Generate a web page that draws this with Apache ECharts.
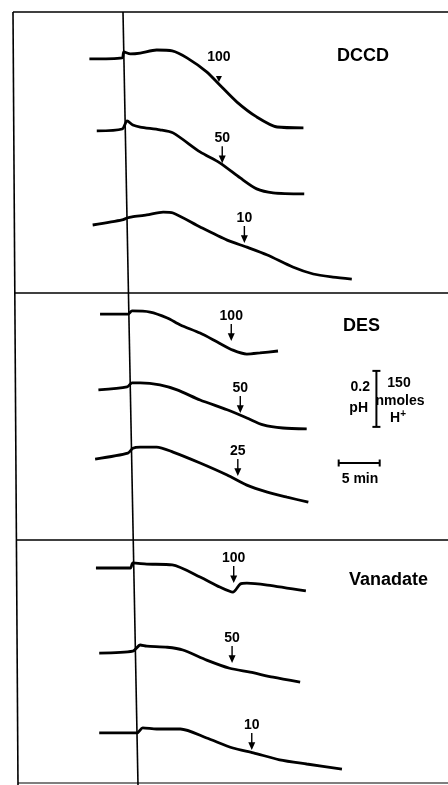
<!DOCTYPE html>
<html>
<head>
<meta charset="utf-8">
<script src="https://cdn.jsdelivr.net/npm/echarts@6/dist/echarts.min.js"></script>
<style>
  html, body { margin: 0; padding: 0; background: #fff; }
  #chart { width: 448px; height: 785px; }
</style>
</head>
<body>
<div id="chart"></div>
<script>
// time in min (0 = addition at the vertical line), pH change vs. start of trace
var panelNames = ['DCCD', 'DES', 'Vanadate'];
var traceBase = [2.593, 2.336, 2.0, 1.682, 1.411, 1.164, 0.775, 0.471, 0.186];

var dccd100T = [-4.1, -0.1, 0.1, 0.9, 2.1, 4.1, 6.0, 7.8, 10.2, 11.8, 13.9, 16.3, 18.8, 22.0];
var dccd100P = [0, 0.004, 0.025, 0.018, 0.021, 0.032, 0.029, 0.004, -0.046, -0.093, -0.154, -0.207, -0.243, -0.246];
var dccd50T = [-3.2, -0.1, 0.5, 1.2, 2.1, 4.5, 6.1, 9.4, 11.8, 14.3, 16.3, 18.3, 22.1];
var dccd50P = [0, 0.007, 0.036, 0.021, 0.014, 0.004, -0.007, -0.075, -0.114, -0.168, -0.207, -0.221, -0.225];
var dccd10T = [-3.7, -0.1, 0.5, 1.1, 2.9, 4.9, 6.1, 9.4, 12.7, 15.1, 17.6, 20.7, 23.2, 25.6, 27.9];
var dccd10P = [0, 0.018, 0.025, 0.029, 0.036, 0.046, 0.043, -0.007, -0.054, -0.079, -0.107, -0.150, -0.175, -0.186, -0.193];

var des100T = [-2.8, 0.6, 1.1, 3.3, 5.4, 7.0, 9.4, 11.5, 13.4, 15.1, 16.7, 18.9];
var des100P = [0, 0, 0.011, 0.007, -0.014, -0.039, -0.068, -0.100, -0.129, -0.143, -0.139, -0.132];
var des50T = [-3.0, 0.5, 1.1, 2.1, 4.5, 6.6, 9.4, 12.7, 15.1, 17.1, 19.5, 22.4];
var des50P = [0, 0.011, 0.025, 0.025, 0.018, 0, -0.036, -0.071, -0.100, -0.125, -0.136, -0.139];
var des25T = [-3.4, 0.6, 1.2, 2.1, 4.1, 6.1, 9.4, 12.7, 15.1, 17.6, 20.0, 22.6];
var des25P = [0, 0.021, 0.039, 0.043, 0.043, 0.025, -0.014, -0.057, -0.093, -0.118, -0.136, -0.154];

var van100T = [-3.3, 0.9, 1.2, 2.9, 6.0, 9.4, 11.8, 13.4, 14.3, 15.1, 17.6, 22.3];
var van100P = [0, 0, 0.018, 0.014, 0.011, -0.032, -0.068, -0.086, -0.057, -0.054, -0.061, -0.082];
var van50T = [-2.9, 1.2, 2.1, 2.9, 5.4, 7.3, 10.2, 13.0, 15.5, 18.3, 21.6];
var van50P = [0, 0.007, 0.029, 0.025, 0.021, 0.011, -0.025, -0.054, -0.068, -0.086, -0.104];
var van10T = [-2.9, 1.7, 2.4, 4.1, 7.0, 10.2, 13.4, 15.9, 19.1, 22.4, 26.7];
var van10P = [0, 0, 0.018, 0.014, 0.014, -0.018, -0.054, -0.071, -0.096, -0.111, -0.129];

var traceTimes = [dccd100T, dccd50T, dccd10T, des100T, des50T, des25T, van100T, van50T, van10T];
var tracePH = [dccd100P, dccd50P, dccd10P, des100P, des50P, des25P, van100P, van50P, van10P];

// inhibitor additions (arrows)
var doseLabels = ['100', '50', '10', '100', '50', '25', '100', '50', '10'];
var doseTimes = [11.7, 12.1, 14.8, 13.2, 14.3, 14.0, 13.5, 13.3, 15.7];
var dosePH = [-0.082, -0.115, -0.064, -0.096, -0.082, -0.060, -0.054, -0.035, -0.061];

// calibration bars
var pHBar = 0.2;
var timeBar = 5;

var chart = echarts.init(document.getElementById('chart'));
var font = '"Liberation Sans Narrow", "Liberation Sans", sans-serif';
var ink = '#000';

var series = [];
traceTimes.forEach(function (times, i) {
  series.push({
    type: 'line',
    smooth: 0.25,
    symbol: 'none',
    silent: true,
    lineStyle: { color: ink, width: 2.8 },
    data: times.map(function (t, j) { return [t, traceBase[i] + tracePH[i][j]]; })
  });
});

var arrowPath = 'path://M4,0 L6,0 L6,11 L10,11 L5,20 L0,11 L4,11 Z';
var headPath = 'path://M0,0 L10,0 L5,9 Z';
series.push({
  type: 'scatter',
  silent: true,
  data: doseTimes.map(function (t, i) {
    var small = i === 0;
    return {
      value: [t, traceBase[i] + dosePH[i]],
      symbol: small ? headPath : arrowPath,
      symbolSize: small ? [6, 6] : [7, 17],
      symbolOffset: [0, small ? -3 : -8.5],
      label: { distance: small ? 12 : 1 }
    };
  }),
  itemStyle: { color: ink, opacity: 1 },
  label: {
    show: true,
    position: 'top',
    formatter: function (p) { return doseLabels[p.dataIndex]; },
    fontFamily: font,
    fontWeight: 'bold',
    fontSize: 14,
    color: ink,
    opacity: 1
  }
});

// 0.2 pH bar and 5 min bar
series.push({
  type: 'line',
  silent: true,
  symbol: 'rect',
  symbolSize: [8, 2],
  lineStyle: { color: ink, width: 2 },
  itemStyle: { color: ink },
  data: [[30.9, 1.279], [30.9, 1.279 + pHBar]]
});
series.push({
  type: 'line',
  silent: true,
  symbol: 'rect',
  symbolSize: [2, 7],
  lineStyle: { color: ink, width: 2 },
  itemStyle: { color: ink },
  data: [[26.3, 1.15], [26.3 + timeBar, 1.15]]
});

function seg(x1, y1, x2, y2, w) {
  return { type: 'line', shape: { x1: x1, y1: y1, x2: x2, y2: y2 }, style: { stroke: ink, lineWidth: w || 1.6 }, silent: true };
}
function txt(x, y, s, size, align, rich) {
  return { type: 'text', x: x, y: y, silent: true,
    style: { text: s, fill: ink, font: 'bold ' + size + 'px ' + font, align: align || 'left', verticalAlign: 'middle', rich: rich } };
}

var graphics = [
  seg(13, 12, 448, 12),
  seg(13, 12, 18, 785),
  seg(14, 293, 448, 293),
  seg(16, 540, 448, 540),
  seg(18, 783, 448, 783, 1.2),
  seg(123, 12, 138, 785),
  txt(337, 56, panelNames[0], 18),
  txt(343, 326, panelNames[1], 18),
  txt(349, 580, panelNames[2], 18),
  txt(370, 387, '0.2', 14, 'right'),
  txt(368, 408, 'pH', 14, 'right'),
  txt(399, 383, '150', 14, 'center'),
  txt(400, 401, 'nmoles', 14, 'center'),
  txt(398, 418, 'H{s|+}', 14, 'center', { s: { fontSize: 10, fontWeight: 'bold', fontFamily: font, verticalAlign: 'top', padding: [0, 0, 8, 0], fill: ink } }),
  txt(360, 479, '5 min', 14, 'center')
];

chart.setOption({
  animation: false,
  backgroundColor: '#fff',
  grid: { left: 0, right: 0, top: 0, bottom: 0 },
  xAxis: { type: 'value', min: -15, max: 39.63, show: false },
  yAxis: { type: 'value', min: 0, max: 2.8036, show: false },
  series: series,
  graphic: graphics
});
</script>
</body>
</html>
